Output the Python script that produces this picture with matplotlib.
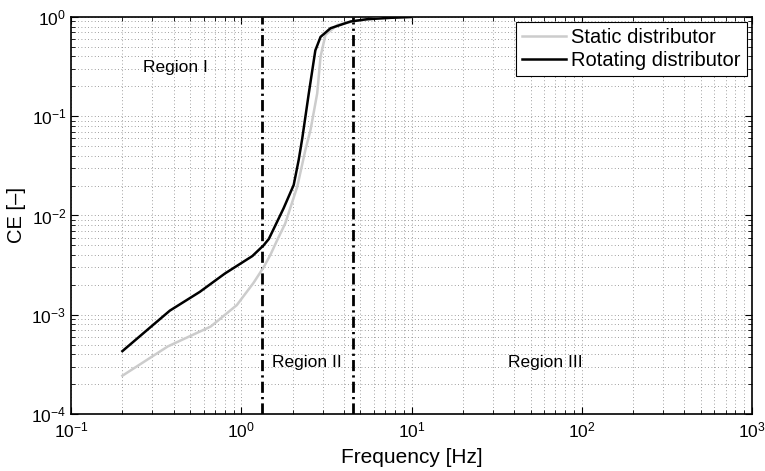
import numpy as np
import matplotlib
matplotlib.use("Agg")
import matplotlib.pyplot as plt
from matplotlib.ticker import LogLocator, NullFormatter

plt.rcParams['font.family'] = ['Liberation Sans', 'DejaVu Sans']

# frequency [Hz] and CE values
freq_static = [0.2, 0.37, 0.66, 0.94, 1.18, 1.35, 1.48, 1.62, 1.81, 2.13, 2.38, 2.55,
               2.79, 2.92, 3.12, 3.66, 4.8, 6.5, 8.5, 10.0]
ce_static = [2.43e-4, 4.8e-4, 7.6e-4, 1.25e-3, 2.1e-3, 3.0e-3, 4.0e-3, 5.6e-3, 8.3e-3,
             0.0195, 0.046, 0.073, 0.17, 0.40, 0.66, 0.83, 0.92, 0.97, 0.99, 1.0]

freq_rot = [0.2, 0.38, 0.57, 0.8, 1.16, 1.35, 1.45, 1.77, 2.03, 2.17, 2.28, 2.49,
            2.72, 2.92, 3.34, 4.38, 5.5, 7.5, 10.0]
ce_rot = [4.3e-4, 1.1e-3, 1.7e-3, 2.6e-3, 3.9e-3, 5.0e-3, 5.8e-3, 0.0118, 0.0203,
          0.036, 0.060, 0.17, 0.46, 0.63, 0.77, 0.90, 0.95, 0.98, 1.0]

region_bounds = [1.33, 4.5]
region_labels = ["Region I", "Region II", "Region III"]
region_pos = [(0.41, 0.31), (2.41, 3.27e-4), (61.4, 3.27e-4)]

fig = plt.figure(figsize=(7.65, 4.71), dpi=100)
ax = fig.add_axes([0.093, 0.121, 0.890, 0.843])

ax.set_xscale('log')
ax.set_yscale('log')
ax.set_xlim(0.1, 1000)
ax.set_ylim(1e-4, 1)

ax.plot(freq_static, ce_static, color='#cccccc', lw=1.8, label='Static distributor', zorder=3)
ax.plot(freq_rot, ce_rot, color='black', lw=1.8, label='Rotating distributor', zorder=4)

for xb in region_bounds:
    ax.axvline(xb, color='black', lw=2, linestyle=(0, (4, 1.5, 0.8, 1.5)), zorder=2)

for txt, (xt, yt) in zip(region_labels, region_pos):
    ax.text(xt, yt, txt, ha='center', va='center', fontsize=12.5)

ax.xaxis.set_major_locator(LogLocator(base=10, numticks=10))
ax.yaxis.set_major_locator(LogLocator(base=10, numticks=10))
ax.xaxis.set_minor_locator(LogLocator(base=10, subs=np.arange(2, 10), numticks=20))
ax.yaxis.set_minor_locator(LogLocator(base=10, subs=np.arange(2, 10), numticks=20))
ax.xaxis.set_minor_formatter(NullFormatter())
ax.yaxis.set_minor_formatter(NullFormatter())

ax.grid(True, which='both', color='0.5', linestyle=(0, (1, 3)), lw=0.6)
ax.tick_params(which='both', direction='in', top=True, right=True, labelsize=12.5)
ax.tick_params(axis='x', which='major', pad=5)
ax.tick_params(which='major', length=5)
ax.tick_params(which='minor', length=3)
for s in ax.spines.values():
    s.set_linewidth(1.2)

ax.set_xlabel('Frequency [Hz]', fontsize=15, labelpad=5)
ax.set_ylabel('CE [–]', fontsize=14.5, labelpad=4)

leg = ax.legend(loc='upper right', fontsize=14.5, fancybox=False, framealpha=1,
                edgecolor='black', borderaxespad=0.25, handlelength=2.2,
                handletextpad=0.25, borderpad=0.3, labelspacing=0.2)
leg.get_frame().set_linewidth(0.8)

fig.savefig('out.png', dpi=100)
